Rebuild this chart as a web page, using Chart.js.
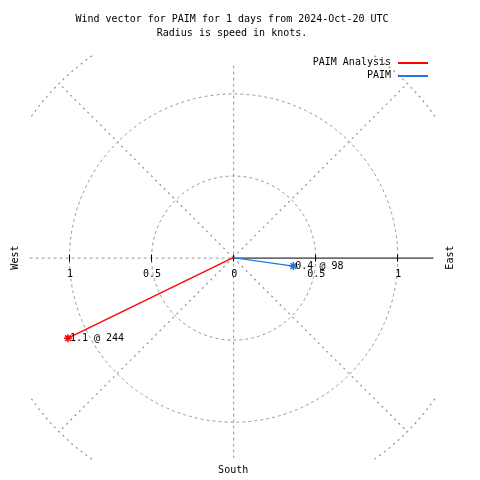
<!DOCTYPE html>
<html>
<head>
<meta charset="utf-8">
<script src="https://cdn.jsdelivr.net/npm/chart.js@4"></script>
<style>
  html, body { margin: 0; padding: 0; background: #fff; }
  canvas { display: block; }
</style>
</head>
<body>
<canvas id="windChart" width="480" height="480"></canvas>
<script>
// data
const seriesNames = ['PAIM Analysis', 'PAIM'];
const speeds = [1.12, 0.37];       // knots
const directions = [244, 98];      // degrees
const seriesColors = ['#ff0000', '#1f78e4'];
const ringValues = [0.5, 1.0];
const tickValues = [-1, -0.5, 0, 0.5, 1];
const tickLabels = ['1', '0.5', '0', '0.5', '1'];
const titleLines = ['Wind vector for PAIM for 1 days from 2024-Oct-20 UTC', 'Radius is speed in knots.'];

const FONT = '10px "DejaVu Sans Mono", monospace';
const GRID = '#999999';

// scale ranges so that 1 knot = 168px and origin lands at (233,258)
const PX = 168;
const xMin = -233 / PX, xMax = 247 / PX;
const yMax = 258 / PX, yMin = -222 / PX;

const toRad = d => d * Math.PI / 180;

const datasets = seriesNames.map((name, i) => ({
    label: name,
    data: [
        { x: 0, y: 0 },
        { x: speeds[i] * Math.sin(toRad(directions[i])), y: speeds[i] * Math.cos(toRad(directions[i])) }
    ],
    showLine: true,
    borderColor: seriesColors[i],
    backgroundColor: seriesColors[i],
    borderWidth: 1.3,
    pointStyle: 'star',
    pointRadius: [0, 4],
    pointBorderWidth: 1.5
}));

const polarGrid = {
    id: 'polarGrid',
    beforeDatasetsDraw(chart) {
        const ctx = chart.ctx;
        const xs = chart.scales.x, ys = chart.scales.y;
        const cx = xs.getPixelForValue(0), cy = ys.getPixelForValue(0);
        const rp = v => xs.getPixelForValue(v) - cx;
        ctx.save();
        ctx.strokeStyle = GRID;
        ctx.lineWidth = 1;

        // rings
        ctx.setLineDash([3, 3]);
        ringValues.forEach(r => {
            ctx.beginPath();
            ctx.arc(cx + 0.5, cy + 0.5, rp(r), 0, Math.PI * 2);
            ctx.stroke();
        });

        // diagonals + small outer arcs
        ctx.lineWidth = 1.3;
        ctx.setLineDash([2, 4]);
        [45, 135, 225, 315].forEach(a => {
            const t = toRad(a);
            ctx.beginPath();
            ctx.moveTo(cx, cy);
            ctx.lineTo(cx + rp(1.5) * Math.cos(t), cy + rp(1.5) * Math.sin(t));
            ctx.stroke();
            ctx.beginPath();
            ctx.arc(cx, cy, rp(1.5), toRad(a - 10), toRad(a + 10));
            ctx.stroke();
        });

        // vertical + west axis
        ctx.lineWidth = 1;
        ctx.setLineDash([3, 3]);
        ctx.beginPath();
        ctx.moveTo(cx + 0.5, ys.getPixelForValue(1.17));
        ctx.lineTo(cx + 0.5, ys.getPixelForValue(-1.22));
        ctx.moveTo(xs.getPixelForValue(-1.24), cy + 0.5);
        ctx.lineTo(cx, cy + 0.5);
        ctx.stroke();

        // east axis solid
        ctx.setLineDash([]);
        ctx.strokeStyle = '#000';
        ctx.beginPath();
        ctx.moveTo(cx, cy + 0.5);
        ctx.lineTo(xs.getPixelForValue(1.22), cy + 0.5);
        ctx.stroke();

        // ticks
        ctx.beginPath();
        tickValues.forEach(v => {
            const px = Math.round(xs.getPixelForValue(v)) + 0.5;
            ctx.moveTo(px, cy - 3);
            ctx.lineTo(px, cy + 4);
        });
        ctx.stroke();
        ctx.restore();
    },
    afterDatasetsDraw(chart) {
        const ctx = chart.ctx;
        const xs = chart.scales.x, ys = chart.scales.y;
        const cx = xs.getPixelForValue(0), cy = ys.getPixelForValue(0);
        ctx.save();
        ctx.font = FONT;
        ctx.fillStyle = '#000';
        ctx.textBaseline = 'middle';

        // tick labels
        ctx.textAlign = 'center';
        tickValues.forEach((v, i) => ctx.fillText(tickLabels[i], xs.getPixelForValue(v) + 1, cy + 17));

        // titles
        ctx.fillText(titleLines[0], 232, 19);
        ctx.fillText(titleLines[1], 232, 33);
        ctx.fillText('South', cx, 470);

        // value labels at vector tips
        ctx.textAlign = 'left';
        chart.data.datasets.forEach((ds, i) => {
            const pt = chart.getDatasetMeta(i).data[1];
            ctx.fillText(speeds[i].toFixed(1) + ' @ ' + directions[i], pt.x + 2, pt.y);
        });

        // legend
        ctx.textAlign = 'right';
        seriesNames.forEach((name, i) => {
            const y = 62 + i * 13;
            ctx.fillText(name, 391, y);
            ctx.strokeStyle = seriesColors[i];
            ctx.lineWidth = 2;
            ctx.beginPath();
            ctx.moveTo(398, y + 1);
            ctx.lineTo(428, y + 1);
            ctx.stroke();
        });

        // rotated side labels
        ctx.textAlign = 'center';
        [['West', 15], ['East', 450]].forEach(([t, x]) => {
            ctx.save();
            ctx.translate(x, cy);
            ctx.rotate(-Math.PI / 2);
            ctx.fillText(t, 0, 0);
            ctx.restore();
        });
        ctx.restore();
    }
};

new Chart(document.getElementById('windChart'), {
    type: 'scatter',
    data: { datasets },
    options: {
        responsive: false,
        animation: false,
        layout: { padding: 0 },
        plugins: { legend: { display: false }, title: { display: false }, tooltip: { enabled: false } },
        scales: {
            x: { type: 'linear', display: false, min: xMin, max: xMax },
            y: { type: 'linear', display: false, min: yMin, max: yMax }
        }
    },
    plugins: [polarGrid]
});
</script>
</body>
</html>
